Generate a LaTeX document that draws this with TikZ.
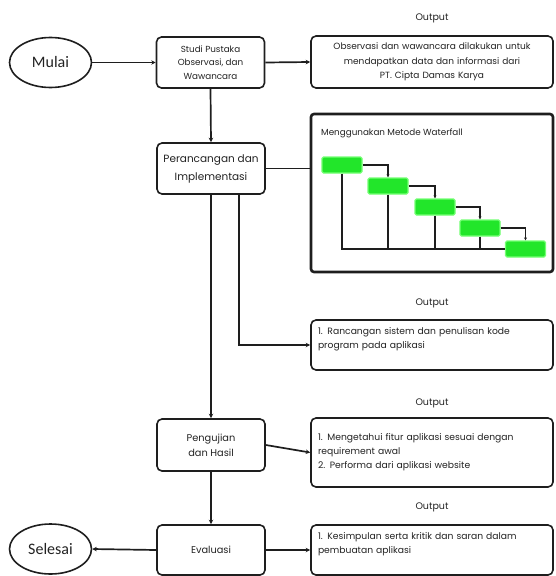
\documentclass[tikz,border=0pt]{standalone}
\usepackage{fontspec}
\setmainfont{Poppins}
\newfontfamily\ovalfont{Carlito}
\usetikzlibrary{arrows.meta,shapes.geometric}
\definecolor{ink}{HTML}{1E1E1E}
\definecolor{txt}{HTML}{222222}
\definecolor{wfgreen}{HTML}{22E62A}
\tikzset{
  line/.style={draw=ink, line width=1.7pt},
  arr/.style={line, -{Stealth[length=4.5pt,width=4.5pt]}},
  oval/.style={ellipse, draw=ink, line width=1.6pt, minimum width=82pt, minimum height=50pt,
    inner sep=0pt, text=txt, font=\ovalfont\fontsize{16}{18}\selectfont},
  stepbox/.style={rectangle, rounded corners=5pt, draw=ink, line width=1.6pt,
    minimum width=108pt, minimum height=51pt, inner sep=2pt, align=center, text=txt},
  outbox/.style={rectangle, rounded corners=5pt, draw=ink, line width=1.6pt,
    minimum width=242pt, inner sep=4pt, text width=228pt, text=txt,
    font=\fontsize{9.2}{14}\selectfont},
  outlabel/.style={font=\fontsize{9.5}{11}\selectfont, inner sep=0pt, text=txt},
  wfstep/.style={rectangle, rounded corners=1.5pt, fill=wfgreen, draw=green!55!white,
    line width=1.2pt, minimum width=40pt, minimum height=16pt, inner sep=0pt},
  wfline/.style={draw=ink, line width=1.2pt},
  wfarr/.style={wfline, -{Stealth[length=3pt,width=3pt]}}
}
\begin{document}
\begin{tikzpicture}[x=1pt,y=-1pt]
\useasboundingbox (0,0) rectangle (555,576);

% start and end
\node[oval] (mulai) at (50.5,62.5) {Mulai};
\node[oval] (selesai) at (50.5,549) {Selesai};

% process steps
\node[stepbox, font=\fontsize{8.8}{13.5}\selectfont] (studi) at (210.5,62.5)
  {Studi Pustaka\\Observasi, dan\\Wawancara};
\node[stepbox, font=\fontsize{10.5}{18}\selectfont] (peran) at (211,168.5)
  {Perancangan dan\\Implementasi};
\node[stepbox, minimum height=52pt, font=\fontsize{9.8}{15}\selectfont] (peng) at (211,445)
  {Pengujian\\dan Hasil};
\node[stepbox, minimum height=50pt, font=\fontsize{9.8}{15}\selectfont] (eval) at (211,550)
  {Evaluasi};

% outputs
\node[outlabel] (lab1) at (432,18) {Output};
\node[outbox, minimum height=52pt, align=center, font=\fontsize{9}{14.5}\selectfont] (out1) at (432,62)
  {Observasi dan wawancara dilakukan untuk\\mendapatkan data dan informasi dari\\PT. Cipta Damas Karya};

\node[outlabel] (lab3) at (432,303) {Output};
\node[outbox, minimum height=50pt, align=left] (out3) at (432,345)
  {1. Rancangan sistem dan penulisan kode\\program pada aplikasi\\\mbox{}};

\node[outlabel] (lab4) at (432,403) {Output};
\node[outbox, minimum height=69pt, align=left] (out4) at (432,452.5)
  {1. Mengetahui fitur aplikasi sesuai dengan\\requirement awal\\2. Performa dari aplikasi website};

\node[outlabel] (lab5) at (432,507) {Output};
\node[outbox, minimum height=50pt, align=left] (out5) at (432,550)
  {1. Kesimpulan serta kritik dan saran dalam\\pembuatan aplikasi\\\mbox{}};

% waterfall panel
\node[rectangle, rounded corners=3pt, draw=ink, line width=2.6pt,
  minimum width=242pt, minimum height=158pt, inner sep=0pt] (wf) at (432,193) {};
\node[anchor=west, inner sep=0pt, text=txt, font=\fontsize{8.8}{10}\selectfont] (wftitle) at (321,133)
  {Menggunakan Metode Waterfall};
\node[wfstep] (w1) at (342,165) {};
\node[wfstep] (w2) at (388,186) {};
\node[wfstep] (w3) at (435,207) {};
\node[wfstep] (w4) at (480,228) {};
\node[wfstep] (w5) at (525.5,249) {};
\coordinate (base) at (342,249);
\draw[wfarr] (w1.east) -| (w2.north);
\draw[wfarr] (w2.east) -| (w3.north);
\draw[wfarr] (w3.east) -| (w4.north);
\draw[wfarr] (w4.east) -| (w5.north);
\draw[wfline] (w1.south) |- (w5.west);
\draw[wfline] (w2.south) -- (w2.south |- base);
\draw[wfline] (w3.south) -- (w3.south |- base);
\draw[wfline] (w4.south) -- (w4.south |- base);

% main flow
\draw[arr] (mulai.east) -- (studi.west);
\draw[arr] (studi.east) -- (out1.west);
\draw[arr] (studi.south) -- (peran.north);
\draw[line] (peran.east) -- (peran.east -| wf.west);
\draw[arr] (peran.south) -- (peng.north);
\draw[arr] ([xshift=28pt]peran.south) |- (out3.west);
\draw[arr] (peng.east) -- (out4.west);
\draw[arr] (peng.south) -- (eval.north);
\draw[arr] (eval.east) -- (out5.west);
\draw[arr] (eval.west) -- (selesai.east);
\end{tikzpicture}
\end{document}
